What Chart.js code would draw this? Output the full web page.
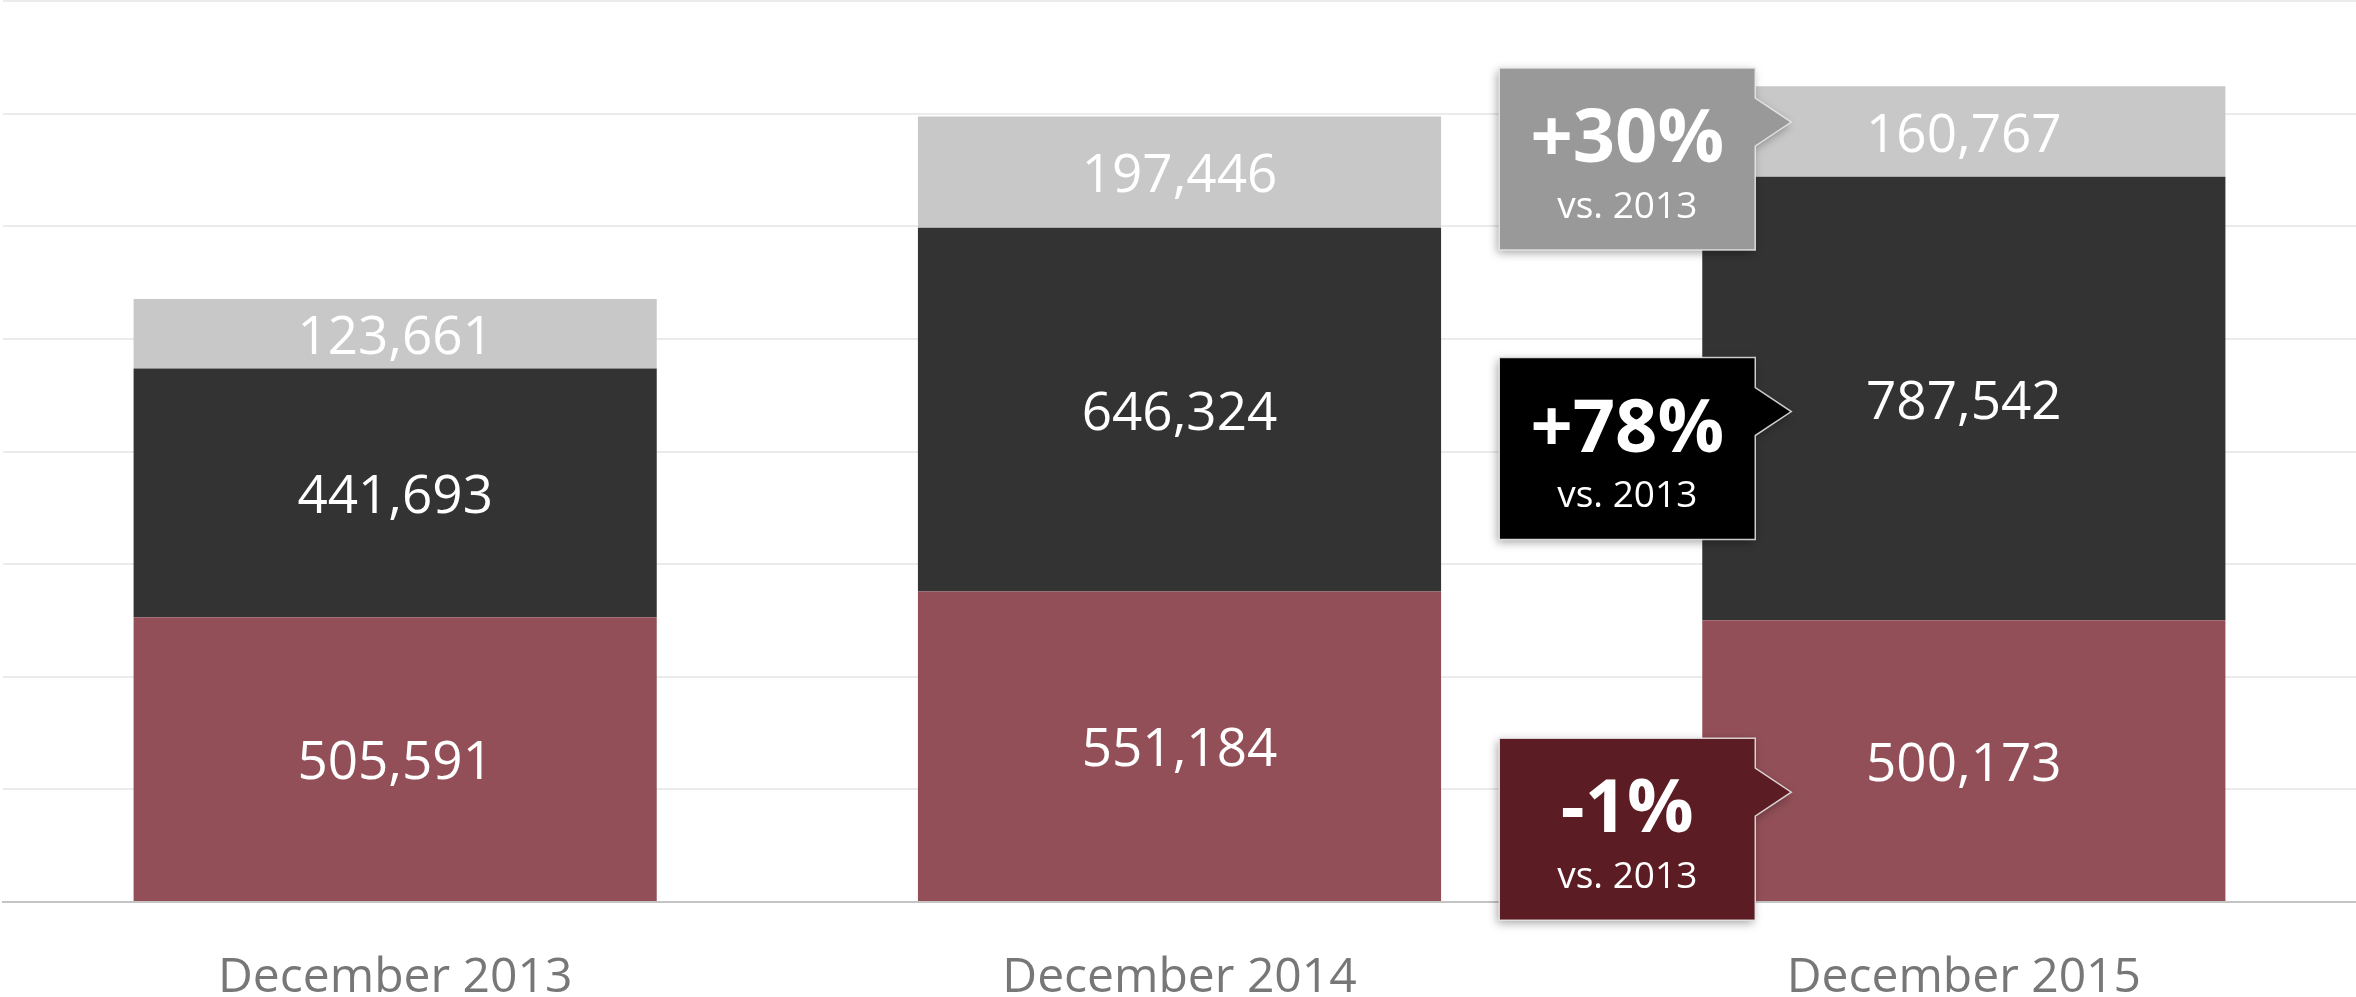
<!DOCTYPE html>
<html>
<head>
<meta charset="utf-8">
<script src="https://cdn.jsdelivr.net/npm/chart.js@4.4.1/dist/chart.umd.min.js"></script>
<style>
  body { margin: 0; background: #fff; }
  #wrap { width: 2356px; height: 997px; }
</style>
</head>
<body>
<div id="wrap"><canvas id="barChart" width="2356" height="997"></canvas></div>
<script>
let months = ["December 2013", "December 2014", "December 2015"];
let bottomValues = [505591, 551184, 500173];
let middleValues = [441693, 646324, 787542];
let topValues = [123661, 197446, 160767];

// callouts for the last month: which dataset, anchor value for the arrow tip, box colour
let calloutDatasets = [2, 1, 0];
let calloutAnchors = [1385000, 871000, 195000];
let calloutColors = ["#999999", "#000000", "#5b1c24"];

let fontName = "'Open Sans', 'Noto Sans', sans-serif";

// numbers written in the middle of every segment
let segmentLabels = {
  id: "segmentLabels",
  afterDatasetsDraw(chart) {
    let ctx = chart.ctx;
    ctx.save();
    ctx.fillStyle = "#ffffff";
    ctx.font = "400 53px " + fontName;
    ctx.textAlign = "center";
    ctx.textBaseline = "middle";
    chart.data.datasets.forEach((ds, i) => {
      chart.getDatasetMeta(i).data.forEach((bar, j) => {
        let mid = (bar.y + bar.base) / 2;
        ctx.fillText(ds.data[j].toLocaleString("en-US"), bar.x, mid + 5);
      });
    });
    ctx.restore();
  }
};

// boxes with the change against the first month
let callouts = {
  id: "callouts",
  afterDatasetsDraw(chart) {
    let ctx = chart.ctx;
    let yScale = chart.scales.y;
    let last = months.length - 1;
    calloutDatasets.forEach((dsIndex, k) => {
      let ds = chart.data.datasets[dsIndex].data;
      let change = Math.round((ds[last] / ds[0] - 1) * 100);
      let text = (change > 0 ? "+" : "") + change + "%";
      let bar = chart.getDatasetMeta(dsIndex).data[last];
      let barLeft = bar.x - bar.width / 2;

      let tipY = yScale.getPixelForValue(calloutAnchors[k]);
      let right = barLeft + 53;
      let left = right - 256;
      let top = tipY - 54;
      let bottom = top + 182;
      let tipX = right + 36;

      ctx.save();
      ctx.beginPath();
      ctx.moveTo(left, top);
      ctx.lineTo(right, top);
      ctx.lineTo(right, tipY - 24);
      ctx.lineTo(tipX, tipY);
      ctx.lineTo(right, tipY + 24);
      ctx.lineTo(right, bottom);
      ctx.lineTo(left, bottom);
      ctx.closePath();
      ctx.shadowColor = "rgba(0,0,0,0.35)";
      ctx.shadowBlur = 10;
      ctx.shadowOffsetX = -2;
      ctx.shadowOffsetY = 3;
      ctx.fillStyle = calloutColors[k];
      ctx.fill();
      ctx.shadowColor = "transparent";
      ctx.lineWidth = 1.5;
      ctx.strokeStyle = "rgba(235,235,235,0.85)";
      ctx.stroke();

      let cx = (left + right) / 2;
      ctx.fillStyle = "#ffffff";
      ctx.textAlign = "center";
      ctx.textBaseline = "middle";
      ctx.font = "700 74px " + fontName;
      ctx.fillText(text, cx, top + 73);
      ctx.font = "400 37px " + fontName;
      ctx.fillText("vs. 2013", cx, top + 139);
      ctx.restore();
    });
  }
};

new Chart(document.getElementById("barChart"), {
  type: "bar",
  data: {
    labels: months,
    datasets: [
      { data: bottomValues, backgroundColor: "#924f57" },
      { data: middleValues, backgroundColor: "#333333" },
      { data: topValues, backgroundColor: "#c8c8c8" }
    ]
  },
  options: {
    responsive: false,
    animation: false,
    devicePixelRatio: 1,
    layout: { padding: { left: 3, top: 1, right: 0, bottom: 0 } },
    datasets: {
      bar: { barPercentage: 0.667, categoryPercentage: 1 }
    },
    plugins: {
      legend: { display: false },
      tooltip: { enabled: false }
    },
    scales: {
      x: {
        stacked: true,
        grid: { display: false },
        border: { display: true, color: "#c4c4c4", width: 2 },
        ticks: {
          color: "#777777",
          font: { family: fontName, size: 48 },
          padding: 40
        },
        afterFit(scale) { scale.height = 95; }
      },
      y: {
        stacked: true,
        min: 0,
        max: 1600000,
        ticks: { display: false, stepSize: 200000 },
        grid: { color: "#ebebeb", lineWidth: 2, drawTicks: false },
        border: { display: false }
      }
    }
  },
  plugins: [segmentLabels, callouts]
});
</script>
</body>
</html>
